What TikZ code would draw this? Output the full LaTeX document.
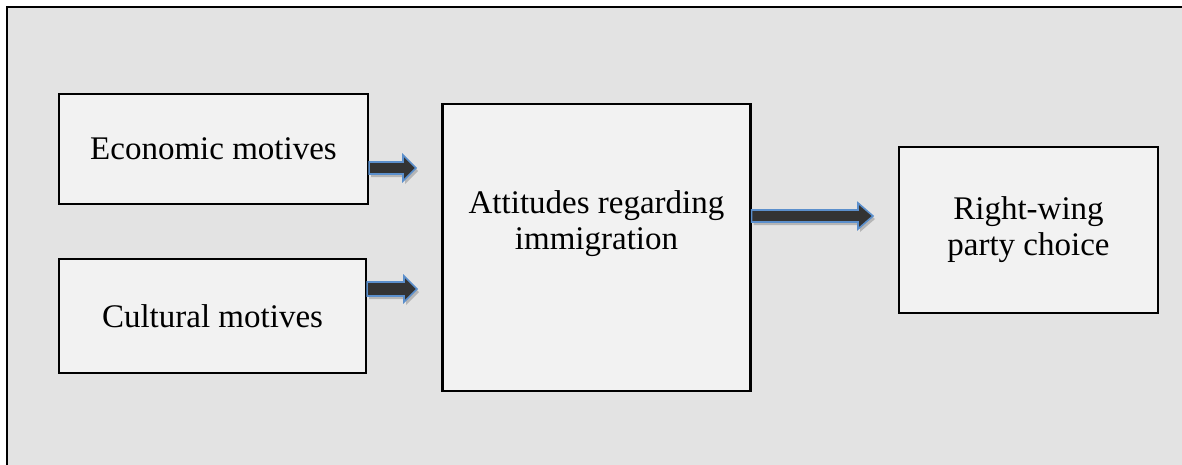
\documentclass[tikz,border=0pt]{standalone}
\usepackage{fontspec}
\setmainfont{Liberation Serif}
\usepackage{tikz}
\usetikzlibrary{calc,shadows}
\definecolor{framegray}{HTML}{E3E3E3}
\definecolor{boxgray}{HTML}{F2F2F2}
\definecolor{arrowblue}{HTML}{5B8FCC}
\definecolor{arrowdark}{HTML}{333333}
\tikzset{
  motivebox/.style={draw=black, line width=2.2pt, fill=boxgray, inner sep=0pt,
    font=\fontsize{33}{36}\selectfont, align=center},
  boxtext/.style={inner sep=0pt, font=\fontsize{33}{36}\selectfont, align=center},
  blockarrow/.style={draw=arrowblue, line width=1.6pt, fill=arrowdark, line join=miter,
    drop shadow={shadow xshift=2pt, shadow yshift=-3pt, opacity=0.2, fill=black}}
}
% block arrow: start, tip, half shaft width, half head width, head length
\newcommand{\blkarrow}[5]{%
  \path[blockarrow] ($(#1)+(0,-#3)$) -- ($(#2)+(-#5,-#3)$) -- ($(#2)+(-#5,-#4)$) -- (#2)
    -- ($(#2)+(-#5,#4)$) -- ($(#2)+(-#5,#3)$) -- ($(#1)+(0,#3)$) -- cycle;}

\begin{document}
\begin{tikzpicture}[x=1pt, y=-1pt]
\useasboundingbox (0,0) rectangle (1182,464);
\clip (0,0) rectangle (1182,464);
\filldraw[fill=framegray, draw=black, line width=2.8pt] (7,7) rectangle (1200,480);

\node[motivebox, minimum width=309pt, minimum height=110pt] (eco) at (213.5,149) {Economic motives};
\node[motivebox, minimum width=307pt, minimum height=114pt] (cult) at (212.5,316) {Cultural motives};
\node[motivebox, minimum width=308pt, minimum height=287pt] (att) at (596.5,247.5) {};
\node[boxtext] (atttext) at (596.5,224) {Attitudes regarding\\immigration};
\node[motivebox, minimum width=259pt, minimum height=166pt] (party) at (1028.5,230) {Right-wing\\party choice};

\coordinate (ecotip) at (416,168);
\coordinate (culttip) at (417,289);
\coordinate (atttip) at (873,216);
\coordinate (ecostart) at (eco.east |- ecotip);
\coordinate (cultstart) at (cult.east |- culttip);
\coordinate (attstart) at (att.east |- atttip);

\blkarrow{ecostart}{ecotip}{6}{13}{13}
\blkarrow{cultstart}{culttip}{7}{13}{13}
\blkarrow{attstart}{atttip}{6}{13}{15}
\end{tikzpicture}
\end{document}
